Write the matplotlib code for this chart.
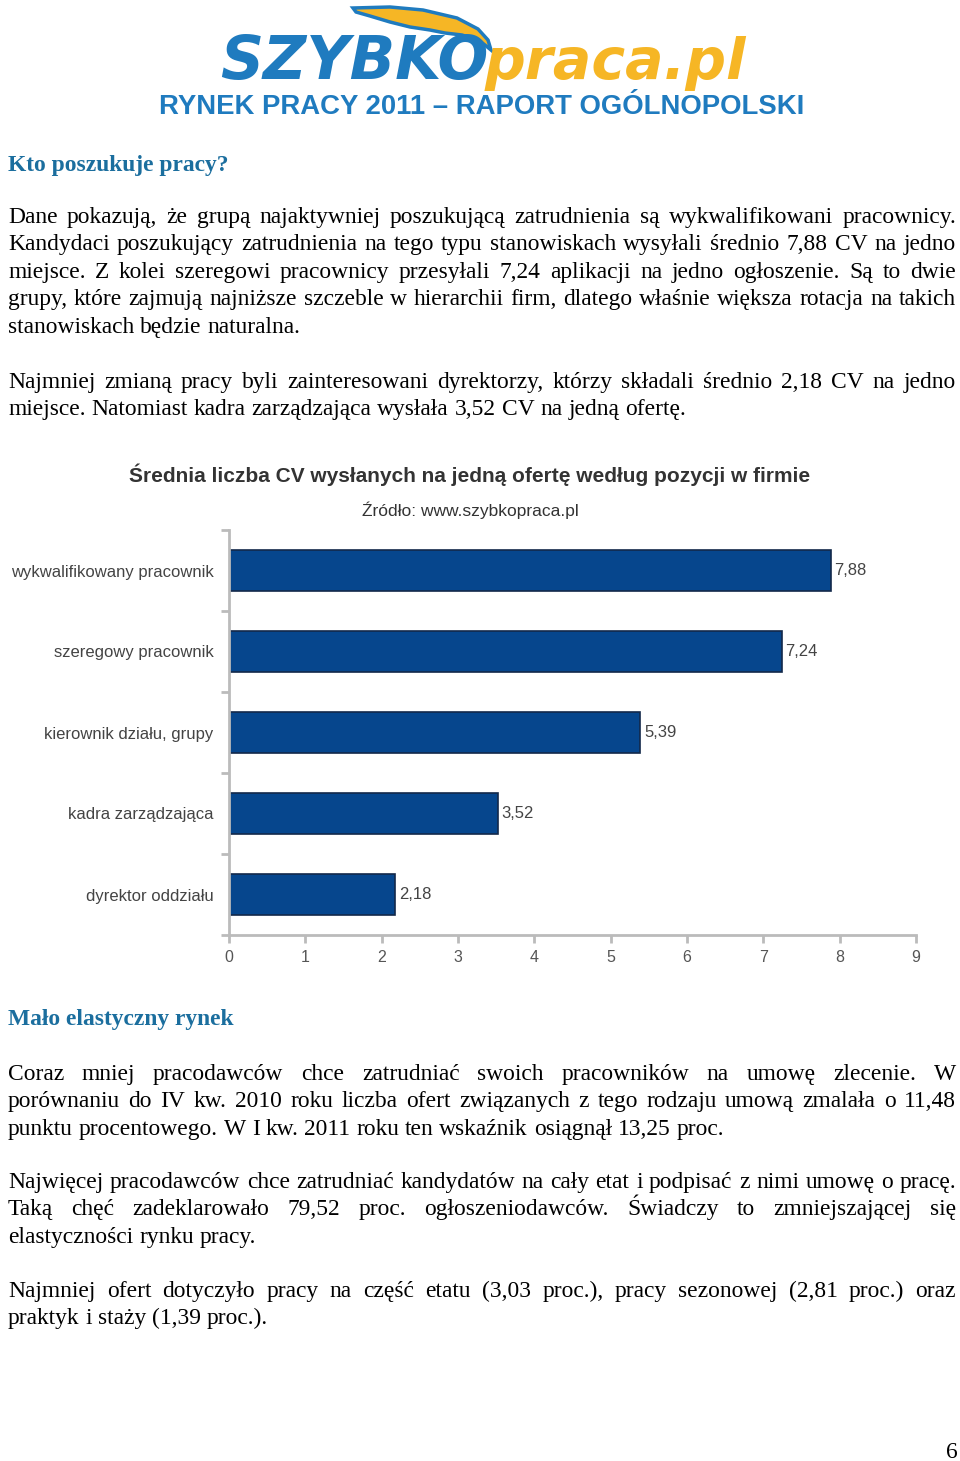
import matplotlib
matplotlib.use('agg')
import matplotlib.pyplot as plt
from matplotlib.patches import Polygon
import numpy as np

# ---- chart data
categories = ['wykwalifikowany pracownik', 'szeregowy pracownik', 'kierownik działu, grupy',
              'kadra zarządzająca', 'dyrektor oddziału']
values = [7.88, 7.24, 5.39, 3.52, 2.18]
xticks = [0, 1, 2, 3, 4, 5, 6, 7, 8, 9]

chart_title = 'Średnia liczba CV wysłanych na jedną ofertę według pozycji w firmie'
chart_source = 'Źródło: www.szybkopraca.pl'

# ---- page text (line by line, as in the report)
heading1 = 'Kto poszukuje pracy?'
par1 = ['Dane pokazują, że grupą najaktywniej poszukującą zatrudnienia są wykwalifikowani pracownicy.',
        'Kandydaci poszukujący zatrudnienia na tego typu stanowiskach wysyłali średnio 7,88 CV na jedno',
        'miejsce. Z kolei szeregowi pracownicy przesyłali 7,24 aplikacji na jedno ogłoszenie. Są to dwie',
        'grupy, które zajmują najniższe szczeble w hierarchii firm, dlatego właśnie większa rotacja na takich',
        'stanowiskach będzie naturalna.']
par2 = ['Najmniej zmianą pracy byli zainteresowani dyrektorzy, którzy składali średnio 2,18 CV na jedno',
        'miejsce. Natomiast kadra zarządzająca wysłała 3,52 CV na jedną ofertę.']
heading2 = 'Mało elastyczny rynek'
par3 = ['Coraz mniej pracodawców chce zatrudniać swoich pracowników na umowę zlecenie. W',
        'porównaniu do IV kw. 2010 roku liczba ofert związanych z tego rodzaju umową zmalała o 11,48',
        'punktu procentowego. W I kw. 2011 roku ten wskaźnik osiągnął 13,25 proc.']
par4 = ['Najwięcej pracodawców chce zatrudniać kandydatów na cały etat i podpisać z nimi umowę o pracę.',
        'Taką chęć zadeklarowało 79,52 proc. ogłoszeniodawców. Świadczy to zmniejszającej się',
        'elastyczności rynku pracy.']
par5 = ['Najmniej ofert dotyczyło pracy na część etatu (3,03 proc.), pracy sezonowej (2,81 proc.) oraz',
        'praktyk i staży (1,39 proc.).']

W, H = 960, 1461
fig = plt.figure(figsize=(W/100, H/100), dpi=100)
renderer = fig.canvas.get_renderer()

def px(x, y):
    return x/W, 1 - y/H

SERIF = ['Liberation Serif', 'DejaVu Serif']
NARROW = ['Liberation Sans Narrow', 'Liberation Sans', 'DejaVu Sans']
BODY = 16.9
LEFT, RIGHT = 8, 956

def paragraph(lines, y0, step=27.4):
    sp = fig.text(0, 0, 'a a', fontsize=BODY, family=SERIF)
    sp2 = fig.text(0, 0, 'aa', fontsize=BODY, family=SERIF)
    space = sp.get_window_extent(renderer).width - sp2.get_window_extent(renderer).width
    sp.remove(); sp2.remove()
    for i, line in enumerate(lines):
        y = y0 + i*step
        words = line.split()
        texts = [fig.text(0, 0, w, fontsize=BODY, family=SERIF, va='baseline') for w in words]
        widths = [t.get_window_extent(renderer).width for t in texts]
        if i < len(lines) - 1 and len(words) > 1:
            gap = (RIGHT - LEFT - sum(widths)) / (len(words) - 1)
        else:
            gap = space
        x = LEFT
        for t, w in zip(texts, widths):
            t.set_position(px(x, y))
            x += w + gap

# ---- logo
wing = [(353, 8), (390, 7), (423, 10), (457, 18), (478, 29), (488, 40), (491, 50),
        (480, 41), (462, 35), (445, 33), (430, 30), (410, 27), (390, 22), (370, 16), (356, 12)]
fig.patches.append(Polygon([px(x, y) for x, y in wing], closed=True, facecolor='#f6b625',
                           edgecolor='#1f7bbf', linewidth=2.5, transform=fig.transFigure))
fig.text(*px(220, 79), 'SZYBKO', fontsize=43, fontweight='bold', style='italic',
         color='#1f7bbf', family='DejaVu Sans', va='baseline', ha='left')
fig.text(*px(746, 79), 'praca.pl', fontsize=41, fontweight='bold', style='italic',
         color='#f6b625', family='DejaVu Sans', va='baseline', ha='right')
fig.text(*px(482, 114), 'RYNEK PRACY 2011 – RAPORT OGÓLNOPOLSKI', fontsize=19.8,
         fontweight='bold', color='#1f7bbf', family=['Liberation Sans', 'DejaVu Sans'],
         va='baseline', ha='center')

# ---- text blocks
head_color = '#1b6e9e'
fig.text(*px(8, 171), heading1, fontsize=BODY, fontweight='bold', color=head_color,
         family=SERIF, va='baseline')
paragraph(par1, 223)
paragraph(par2, 388)
fig.text(*px(8, 1025), heading2, fontsize=BODY, fontweight='bold', color=head_color,
         family=SERIF, va='baseline')
paragraph(par3, 1080)
paragraph(par4, 1188)
paragraph(par5, 1297)
fig.text(*px(958, 1458), '6', fontsize=BODY, family=SERIF, va='baseline', ha='right')

# ---- chart
fig.text(*px(470, 482), chart_title, fontsize=15, fontweight='bold', color='#333333',
         family=NARROW, va='baseline', ha='center')
fig.text(*px(470, 516), chart_source, fontsize=12.5, color='#333333',
         family=NARROW, va='baseline', ha='center')

ax = fig.add_axes([229/W, 1 - 935/H, 687/W, 405/H])
ypos = np.arange(len(categories))
bars = ax.barh(ypos, values, height=0.5, color='#06468d', edgecolor='#13294a', linewidth=1.2)
for y, v in zip(ypos, values):
    ax.text(v + 0.05, y, f'{v:.2f}'.replace('.', ','), va='center', ha='left',
            fontsize=12, color='#444444', family=NARROW)
ax.set_xlim(0, 9)
ax.set_ylim(len(categories) - 0.5, -0.5)
ax.set_xticks(xticks)
ax.set_xticklabels([str(t) for t in xticks], fontsize=11.5, color='#555555', family=NARROW)
ax.set_yticks(ypos)
ax.set_yticklabels(categories, fontsize=12, color='#444444', family=NARROW)
ax.tick_params(axis='y', length=0, pad=11)
ax.set_yticks(np.arange(-0.5, len(categories), 1), minor=True)
ax.tick_params(axis='y', which='minor', length=6, color='#bbbbbb', width=2)
ax.tick_params(axis='x', length=6, color='#bbbbbb', width=2, pad=5)
for s in ['top', 'right']:
    ax.spines[s].set_visible(False)
for s in ['left', 'bottom']:
    ax.spines[s].set_color('#bbbbbb')
    ax.spines[s].set_linewidth(2)

fig.savefig('out.png', dpi=100)
